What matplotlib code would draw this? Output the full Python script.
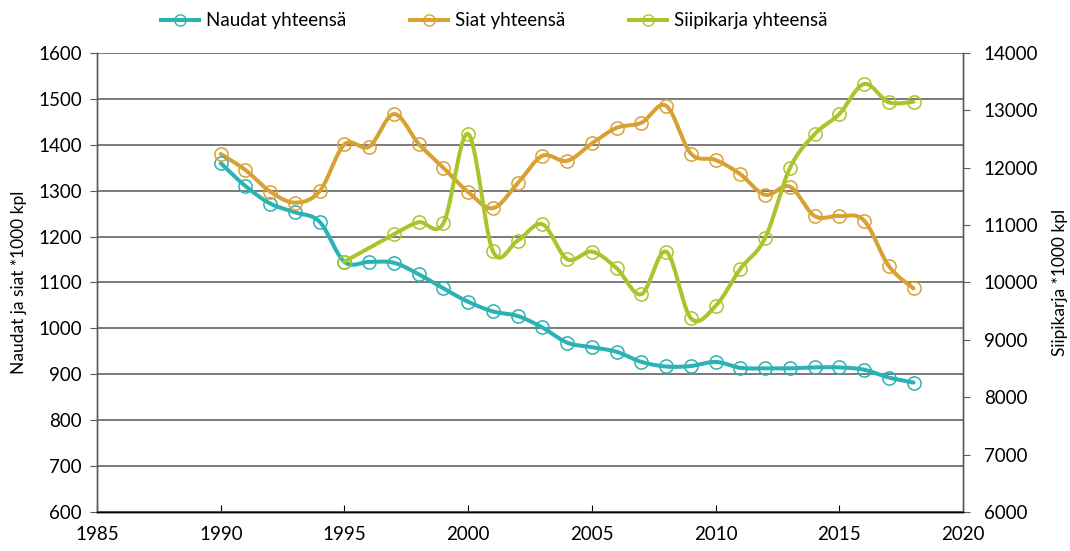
import numpy as np
import matplotlib
matplotlib.use("Agg")
import matplotlib.pyplot as plt
from matplotlib.lines import Line2D

plt.rcParams['font.family'] = ['Lato', 'DejaVu Sans']

years = list(range(1990, 2019))
naudat = [1360, 1310, 1272, 1253, 1232, 1145, 1145, 1143, 1118, 1087, 1058, 1037,
          1027, 1002, 969, 959, 949, 927, 917, 918, 927, 914, 913, 913, 915, 915, 910, 893, 882]
siat = [1380, 1345, 1298, 1274, 1299, 1401, 1396, 1467, 1402, 1350, 1297, 1262,
        1316, 1376, 1365, 1403, 1437, 1448, 1485, 1381, 1367, 1336, 1291, 1309, 1245, 1245, 1235, 1136, 1087]
siipi_years = [1995] + list(range(1997, 2019))
siipi = [10364, 10841, 11050, 11033, 12589, 10545, 10730, 11015, 10406, 10538, 10249,
         9796, 10538, 9378, 9592, 10237, 10772, 11991, 12584, 12937, 13460, 13141, 13152]

labels = ["Naudat yhteensä", "Siat yhteensä", "Siipikarja yhteensä"]
colors = ["#2AB2B4", "#D9A133", "#AAC52B"]


def smooth(x, y, n=20):
    x = np.asarray(x, float)
    y = np.asarray(y, float)
    xs, ys = [x[0]], [y[0]]
    t = np.linspace(0, 1, n)[1:]
    for i in range(len(x) - 1):
        p0 = np.array([x[max(i - 1, 0)], y[max(i - 1, 0)]])
        p1 = np.array([x[i], y[i]])
        p2 = np.array([x[i + 1], y[i + 1]])
        p3 = np.array([x[min(i + 2, len(x) - 1)], y[min(i + 2, len(x) - 1)]])
        c1 = p1 + (p2 - p0) / 6
        c2 = p2 - (p3 - p1) / 6
        b = ((1 - t) ** 3)[:, None] * p1 + (3 * (1 - t) ** 2 * t)[:, None] * c1 \
            + (3 * (1 - t) * t ** 2)[:, None] * c2 + (t ** 3)[:, None] * p2
        xs.extend(b[:, 0]); ys.extend(b[:, 1])
    return np.array(xs), np.array(ys)


fig = plt.figure(figsize=(10.7, 5.51), dpi=100)
ax = fig.add_axes([0.0907, 0.0708, 0.8093, 0.833])
ax2 = ax.twinx()

lw = 2.9
ms = 9.5

for yv, c in [(naudat, colors[0]), (siat, colors[1])]:
    sx, sy = smooth(years, yv)
    ax.plot(sx, sy, color=c, lw=lw, solid_capstyle='round', zorder=3)
    ax.plot(years, yv, linestyle='none', marker='o', ms=ms, mfc='none', mec=c, mew=1.1, zorder=4)

# poultry: straight over missing 1996, smoothed afterwards
ax2.plot(siipi_years[:2], siipi[:2], color=colors[2], lw=lw, solid_capstyle='round', zorder=3)
sx, sy = smooth(siipi_years[1:], siipi[1:])
ax2.plot(sx, sy, color=colors[2], lw=lw, solid_capstyle='round', zorder=3)
ax2.plot(siipi_years, siipi, linestyle='none', marker='o', ms=ms, mfc='none', mec=colors[2], mew=1.1, zorder=4)

ax.set_xlim(1985, 2020)
ax.set_ylim(600, 1600)
ax2.set_ylim(6000, 14000)
ax.set_xticks(range(1985, 2021, 5))
ax.set_yticks(range(600, 1601, 100))
ax2.set_yticks(range(6000, 14001, 1000))

ax.yaxis.grid(True, color='#6f6f6f', lw=1.3)
ax.set_axisbelow(True)

for a in (ax, ax2):
    a.spines['top'].set_visible(False)
    a.spines['left'].set_color('#595959')
    a.spines['right'].set_color('#595959')
    a.spines['bottom'].set_color('#000000')
    a.spines['left'].set_linewidth(1.0)
    a.spines['right'].set_linewidth(1.0)
    a.spines['bottom'].set_linewidth(1.0)

ax.tick_params(axis='y', direction='out', length=5, color='#595959', labelsize=13.5, pad=6)
ax.tick_params(axis='x', direction='in', length=5, color='#000000', labelsize=13.5, pad=10)
ax2.tick_params(axis='y', direction='out', length=5, color='#595959', labelsize=13.5, pad=10)

ax.set_ylabel("Naudat ja siat *1000 kpl", fontsize=12.5, labelpad=8)
ax2.set_ylabel("Siipikarja *1000 kpl", fontsize=12.5, labelpad=10)

handles = [Line2D([0], [0], color=c, lw=lw, marker='o', ms=ms * 0.85, mfc='none', mec=c, mew=1.0)
           for c in colors]
fig.legend(handles, labels, loc='center', bbox_to_anchor=(0.462, 0.962), ncol=3, frameon=False,
           fontsize=13.5, handlelength=2.0, columnspacing=3.4, handletextpad=0.4)

fig.savefig("out.png", dpi=100)
